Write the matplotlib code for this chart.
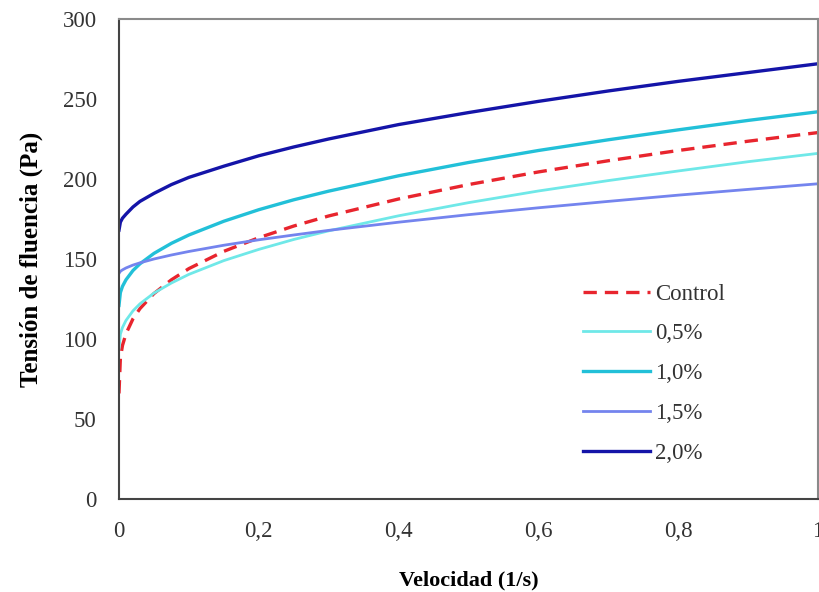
import matplotlib
matplotlib.use("Agg")
import matplotlib.pyplot as plt

plt.rcParams['font.family'] = ['Liberation Serif', 'DejaVu Serif']

velocidad = [0, 0.002, 0.005, 0.01, 0.02, 0.03, 0.05, 0.075, 0.1, 0.15, 0.2,
             0.25, 0.3, 0.4, 0.5, 0.6, 0.7, 0.8, 0.9, 1.0]

control = [66, 88, 96, 103.3, 112.6, 119, 128.4, 137, 144, 154.8, 163.3,
           170.6, 176.9, 187.5, 196.5, 204.4, 211.4, 217.8, 223.6, 229]
p05 = [94, 103, 107.2, 111.6, 117.6, 122, 128.7, 135, 140.4, 149, 156,
       162.2, 167.6, 177, 185.2, 192.5, 199, 205, 210.8, 216]
p10 = [121, 129, 132.9, 137, 142.8, 147, 153.5, 159.8, 165, 173.6, 180.8,
       187, 192.4, 202, 210.3, 217.8, 224.5, 230.7, 236.6, 242]
p15 = [141, 142.3, 143.2, 144.4, 146.2, 147.6, 150, 152.5, 154.7, 158.6, 162,
       165, 167.9, 173, 177.7, 182, 186, 189.9, 193.5, 197]
p20 = [168, 173, 175.5, 178, 182.5, 186, 191, 196.5, 201, 208, 214.5,
       220, 225, 234, 241.5, 248.5, 255, 261, 266.5, 272]

labels = ["Control", "0,5%", "1,0%", "1,5%", "2,0%"]
x_ticks = [0, 0.2, 0.4, 0.6, 0.8, 1.0]
x_tick_labels = ["0", "0,2", "0,4", "0,6", "0,8", "1"]
y_ticks = [0, 50, 100, 150, 200, 250, 300]

fig = plt.figure(figsize=(8.2, 5.92), dpi=100)
ax = fig.add_axes([0.1451, 0.157, 0.8525, 0.811])

ax.plot(velocidad, control, color="#E8252E", lw=2.4, ls=(0, (4.0, 2.4)), label=labels[0])
ax.plot(velocidad, p05, color="#6FE8E8", lw=2.0, label=labels[1])
ax.plot(velocidad, p10, color="#22C0D8", lw=2.4, label=labels[2])
ax.plot(velocidad, p15, color="#7484EE", lw=2.0, label=labels[3])
ax.plot(velocidad, p20, color="#1414A8", lw=2.4, label=labels[4])

ax.set_xlim(0, 1)
ax.set_ylim(0, 300)
ax.set_xticks(x_ticks)
ax.set_xticklabels(x_tick_labels)
ax.set_yticks(y_ticks)
ax.tick_params(axis="both", length=0, labelsize=16.5, colors="#333333")
ax.tick_params(axis="x", pad=16)
ax.tick_params(axis="y", pad=16)

for s in ax.spines.values():
    s.set_color("#8a8a8a")
    s.set_linewidth(1.5)
ax.spines["left"].set_color("#444444")
ax.spines["bottom"].set_color("#444444")

ax.set_xlabel("Velocidad (1/s)", fontsize=16, fontweight="bold", labelpad=20)
ax.set_ylabel("Tensión de fluencia (Pa)", fontsize=18, fontweight="bold", labelpad=14)

leg = ax.legend(loc="upper left", bbox_to_anchor=(0.651, 0.468), frameon=False,
                fontsize=16.5, handlelength=2.93, handletextpad=0.2,
                labelspacing=0.82, borderaxespad=0)
for t in leg.get_texts():
    t.set_color("#333333")

fig.savefig("out.png", dpi=100)
